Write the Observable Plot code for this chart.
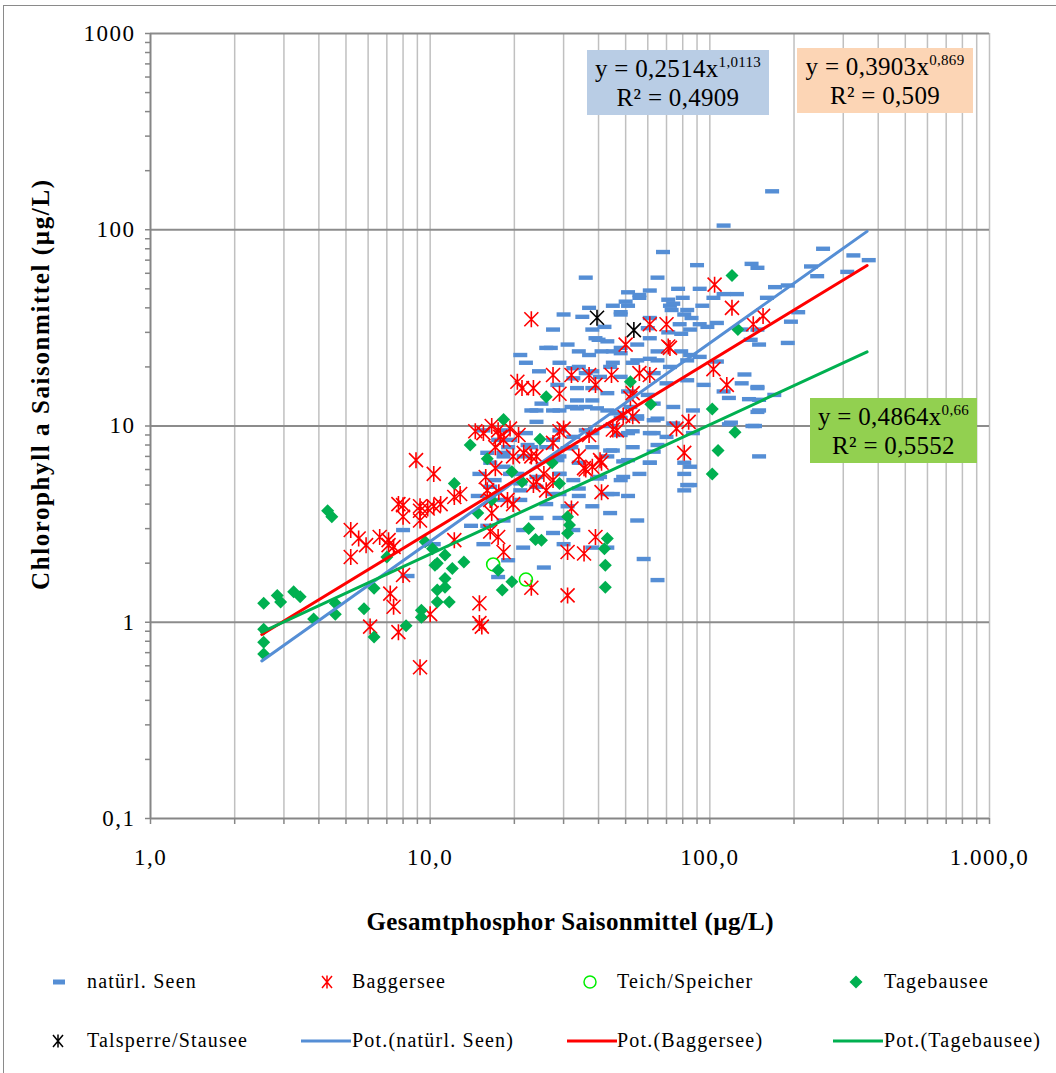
<!DOCTYPE html>
<html><head><meta charset="utf-8">
<script src="https://cdn.jsdelivr.net/npm/d3@7"></script>
<script src="https://cdn.jsdelivr.net/npm/@observablehq/plot@0.6"></script>
<style>
body{margin:0;background:#fff;}
#wrap{position:relative;width:1056px;height:1073px;overflow:hidden;font-family:"Liberation Serif","Times New Roman",serif;color:#000;background:#fff;}
#frame{position:absolute;left:3px;top:5px;width:1200px;height:1200px;border-left:1.5px solid #8a8a8a;border-top:1.5px solid #8a8a8a;}
#chart{position:absolute;left:0;top:0;}
.box{position:absolute;height:65px;text-align:center;font-family:"Liberation Serif",serif;font-size:25px;letter-spacing:0.3px;padding-top:4px;box-sizing:border-box;}
.box div{line-height:29px;height:29px;white-space:nowrap;}
.box .sup{font-size:15px;position:relative;top:-10px;letter-spacing:0.3px;}
.leg{position:absolute;font-family:"Liberation Serif",serif;font-size:20px;letter-spacing:1.2px;white-space:nowrap;line-height:24px;}
.legm{position:absolute;overflow:visible;}
</style></head><body>
<div id="wrap"><div id="frame"></div><div id="chart"></div></div>
<script>
// ---------- data (TP µg/L, Chl a µg/L) ----------
const seen = [
[167,157],[112,105],[68,77],[254,80],[326,74],[370,70],[90,66],[141,67],[148,64],[230,65],[242,58],[310,61],[65,57],[77,50],[92,50],[112,47],[125,47],[171,51],[190,52],[160,45],[61,49],[56,45],[50,43],[51,41],[45,41],[48,38],[71,44],[72,41],[73,39],[83,39],[94,41],[86,35.5],[78,33],[92,33],[61,35.5],[60,31.5],[61,28],[71,30],[79,29.5],[85,31],[98,32],[106,33.5],[130,31],[148,31],[140,27.5],[150,26],[190,26.5],[207,38],[195,34],[55,26],[48,25],[43,27],[45,24],[65,24],[79,24],[85,23],[92,22.5],[106,21.3],[133,18.3],[130,16.5],[148,15.6],[150,13.6],[150,12],[170,14.4],[142,10],[150,7],[119,10.4],[117,13.9],
[36,57],[51,48],[56,46.5],[80,45],[74,42],[37,40],[103,45],
[30,37],[35,36],[48,37],[81,37],[27.5,31],[38,31],[42,32],[31,26],[39,28],[27,25],[34,24],[41,24],[48,23.5],[45,21],[53,21],[61,22],[72,20],[83,21.6],[22,21],[24.5,19],[21,23],[32.5,19.7],[38,19],[32.5,17.5],[40.5,17.8],[48,17.8],[63,18.6],[70,16.5],[83,17.1],[28.5,16.2],[33.5,15.6],[38,15.6],[43,14.7],[51,15],[60,14.4],[33.5,13.5],[38,13.5],[33.5,12.3],[29,12],[36,12.5],[43,12],[52,12.5],[63,13],[74,12.5],[87,12],[23,12],[25,13],[48,11],[55,11.2],[63,10.7],[74,10.3],[44,10],[53,9.4],[63,9.2],[70,8.8],[48,9],[38,9.2],[32.5,8.8],[27.5,8.5],[22,9.2],[17.5,8.5],[19,7.8],[23,7.8],[26,7.8],[31,7.7],[38,7.8],[45,7.5],[53,7.8],[63,7.4],[16,7.3],[18.3,7],[29,7],[43,7],[51,6.7],[61,6.5],[81,6.5],[81,5.7],[83,5],[81,4.7],[18.3,6.2],[20.5,5.7],[17,5.3],[21,5.1],[29,5.7],[32.5,5.3],[40.5,5.5],[48,5.3],[56,5.7],[24,4.9],[29,4.5],[34,4.4],[43,4.5],[51,4.4],[14.8,4.4],[21,4.2],[26,4],[31,3.9],[38,3.9],[44,3.6],[55,3.3],[24,3.4],[29,3.4],[14,3.1],[16,3.1],[18.3,3.3],[21.5,2.95],[27.5,2.85],[32.5,2.95],[30,2.5],[38,2.4],[43,2.4],[58,2.1],[21.5,2.4],[15.5,2.5],[19,2.07],[17.5,1.7],[25.5,1.9],[65,1.64],
[95,16.2],[148,15.8],[112,15],[138,13.7],[148,11.8],[117,10.2],[145,10],[87,9.2],[85,6.2],[85,5],
[8,2.95],[8.3,1.72],[10.3,2.5],
[26,25],[40,27.5],[37,23],[29,21],[34,20],[44,20],[55,21.6],[65,21.6],[36,18.6],[24,12],[27.5,12],[32,12.5],[39.5,12.3],[46.5,11.6],[55,10.9],[65,10.9],[24,10.5],[29,9.5],[36,9.5],[51,9.2],[61,9.2],[19.3,8.5],[22.3,8],[32,7.8],[44,7.5],[65,8],[18.3,7.3],[21.6,7],[28.5,6.7],[34,6.5],[49,6.6],[61,6.5],[19.3,5.7],[24,5.5],[29,5.7],[39.5,5.4],[49,5.5],[21,4.7],[27.5,4.5],[34,4.8],[45,4.5],[18.3,4.2],[15,5.7],[16.4,4.9],[16.4,6.5],[15.5,9.5],[18.3,9.5]
];
const bagger = [
[8.9,6.7],[10.3,5.7],[7.7,4.0],[8,3.95],[9.2,3.9],[10.3,3.9],[8,3.45],[9.2,3.3],[5.2,2.95],[5.55,2.67],[5.9,2.47],[5.2,2.15],[6.6,2.72],[7.1,2.62],[7.4,2.42],[7.1,2.47],[8,1.74],[7.2,1.4],[7.4,1.2],[6.1,0.95],[7.7,0.89],[9.2,0.59],[10,1.1],
[23,35],[61,33],[70,33],[50,26],[72,25],[20.5,16.8],[21.3,15.6],[27.5,18.2],[23.4,15.6],[29,14.6],[32,18.2],[37,18.2],[39,16.2],[44.5,18.2],[56,18.6],[61,18.2],[53,14.7],[49,11.3],[53,11.2],[45,9.6],[37,9],[29,9.4],[76,9.7],[84,10.5],[81,7.3],[41,4.6],[32,3.8],[39,2.72],[35.5,2.24],[31,2.28],[23,1.5],[31,1.37],[18.3,2.28],[17.5,2.72],[15,1.25],[15,0.99],[15.3,0.95],[12.2,2.62],[9.2,3.7],[12.2,4.35],[10.9,4.0],[9.8,3.8],[12.8,4.5],[14.5,9.4],[15.5,9.2],[16.6,10],[17.5,9.5],[17.8,8.8],[19.3,9.7],[20.7,9],[17.1,7.8],[18.3,8.5],[19.8,7],[21.6,7.3],[23,7],[24,7],[17.1,6.1],[15.8,5.5],[16,4.7],[17.6,4.6],[16.4,4.2],[18.9,4.2],[19.8,4],[16.6,3.6],[16.4,2.9],[24,5.2],[25.5,5.7],[27.5,5.3],[23.4,5],[26,4.7],[27.5,8.2],[30,9.7],[34,7],[35.5,6.1],[38,6.2],[41,6.5],[36,6],[46.5,9.5],
[104,52.5],[120,40],[155,36.4],[143,33],[71,25.4],[103,19.5],[115,16.2],[52,13.9],[40.5,6.7]
];
const teich = [[16.8,1.97],[22,1.65]];
const tagebau = [
[4.3,3.7],[4.45,3.45],[2.54,1.25],[2.84,1.37],[2.92,1.27],[3.25,1.43],[3.43,1.35],[2.54,0.92],[2.54,0.79],[2.54,0.69],[3.83,1.04],[4.58,1.25],[4.58,1.1],[5.8,1.17],[6.3,0.84],[6.3,1.49],[8.2,0.96],[7,2.15],[9.3,1.15],[9.3,1.06],[9.6,2.57],[10.6,2],[10.6,1.46],[10.6,1.27],
[26,14.1],[52,16.8],[61.5,12.9],[18.3,10.8],[24.7,8.55],[13.9,8],[16,6.8],[12.2,5.1],[19.6,5.85],[27.3,6.5],[29,5.1],[21.3,5.2],[16.6,4.2],[14.8,3.6],[31,3.45],[31.5,3.13],[31,2.84],[22.5,3],[23.8,2.64],[25,2.62],[43,2.67],[42,2.37],[42.3,1.95],[42.3,1.51],[10.2,2.37],[11.3,2.2],[13.2,2.03],[10.4,1.95],[12,1.88],[11.3,1.67],[11.3,1.51],[11.7,1.27],[17.5,1.84],[19.6,1.61],[18.1,1.46],
[120,58.5],[126,31],[102,12.2],[123,9.3],[107,7.5],[102,5.7]
];
const talsperre = [[39.5,35.6],[53.5,30.8]];

// power trendlines y = a·x^b (as printed on the chart)
const trendSeries = ["natürl. Seen", "Baggersee", "Tagebausee"];
const trendA = [0.2514, 0.3903, 0.4864];
const trendB = [1.0113, 0.869, 0.66];
const trendR2 = ["0,4909", "0,509", "0,5552"];
const trendAText = ["0,2514", "0,3903", "0,4864"];
const trendBText = ["1,0113", "0,869", "0,66"];
const trendRange = [2.5, 365];

const xTicks = [1, 10, 100, 1000];
const xTickLabels = ["1,0", "10,0", "100,0", "1.000,0"];
const yTicks = [0.1, 1, 10, 100, 1000];
const yTickLabels = ["0,1", "1", "10", "100", "1000"];
const xTitle = "Gesamtphosphor Saisonmittel (µg/L)";
const yTitle = "Chlorophyll a Saisonmittel (µg/L)";
const legendLabels = ["natürl. Seen", "Baggersee", "Teich/Speicher", "Tagebausee", "Talsperre/Stausee", "Pot.(natürl. Seen)", "Pot.(Baggersee)", "Pot.(Tagebausee)"];

// ---------- styles ----------
const C = {seen: "#558ed5", bagger: "#ff0000", teich: "#00ee00", tagebau: "#00b050", tal: "#000000"};
const trendColors = [C.seen, C.bagger, C.tagebau];

const dashSym = {draw(c) { c.moveTo(-7, -2.2); c.lineTo(7, -2.2); c.lineTo(7, 2.2); c.lineTo(-7, 2.2); c.closePath(); }};
const starSym = {draw(c) { c.moveTo(-7, -7); c.lineTo(7, 7); c.moveTo(7, -7); c.lineTo(-7, 7); c.moveTo(0, -8); c.lineTo(0, 8); }};
const diamondSym = {draw(c) { c.moveTo(0, -6.5); c.lineTo(6.5, 0); c.lineTo(0, 6.5); c.lineTo(-6.5, 0); c.closePath(); }};

// minor / grid positions
function decadeMultiples(lo, hi) {
  const out = [];
  for (let d = lo; d < hi; d *= 10) for (let k = 2; k <= 10; k++) out.push(+(d * k).toPrecision(6));
  return out;
}
const xGrid = decadeMultiples(1, 1000);
const yMinor = decadeMultiples(0.1, 1000).filter(v => !yTicks.includes(v));
const xMinor = xGrid.filter(v => !xTicks.includes(v));
const xLab = new Map(xTicks.map((v, i) => [v, xTickLabels[i]]));
const yLab = new Map(yTicks.map((v, i) => [v, yTickLabels[i]]));

const trendData = trendSeries.flatMap((s, i) => trendRange.map(x => ({s, i, x, y: trendA[i] * Math.pow(x, trendB[i])})));

const chart = Plot.plot({
  width: 1056, height: 950,
  marginLeft: 150, marginRight: 67, marginTop: 33, marginBottom: 132,
  x: {type: "log", domain: [1, 1000], label: null},
  y: {type: "log", domain: [0.1, 1000], label: null},
  style: {fontFamily: "'Liberation Serif','Times New Roman',serif", background: "transparent", overflow: "visible"},
  marks: [
    Plot.ruleX(xGrid, {stroke: "#c0c0c0", strokeWidth: 1.5}),
    Plot.ruleY(yTicks.slice(1), {stroke: "#8c8c8c", strokeWidth: 2}),
    Plot.axisX({ticks: xTicks.concat(xMinor), label: null, tickSize: 6, tickPadding: 24, stroke: "#868686", strokeWidth: 1.5, fill: "black",
      tickFormat: d => xLab.get(d) ?? "", fontSize: 23}),
    Plot.axisY({ticks: yTicks.concat(yMinor), label: null, tickSize: 5, tickPadding: 10, stroke: "#868686", strokeWidth: 1.5, fill: "black",
      tickFormat: d => yLab.get(d) ?? "", fontSize: 23}),
    Plot.ruleX([1], {stroke: "#868686", strokeWidth: 2}),
    Plot.ruleY([0.1], {stroke: "#868686", strokeWidth: 2}),
    Plot.dot(seen, {x: d => d[0], y: d => d[1], symbol: dashSym, fill: C.seen, stroke: "none"}),
    Plot.dot(bagger, {x: d => d[0], y: d => d[1], symbol: starSym, fill: "none", stroke: C.bagger, strokeWidth: 1.6}),
    Plot.dot(teich, {x: d => d[0], y: d => d[1], r: 6.5, fill: "none", stroke: C.teich, strokeWidth: 1.6}),
    Plot.dot(tagebau, {x: d => d[0], y: d => d[1], symbol: diamondSym, fill: C.tagebau, stroke: "none"}),
    Plot.dot(talsperre, {x: d => d[0], y: d => d[1], symbol: starSym, fill: "none", stroke: C.tal, strokeWidth: 1.6}),
    Plot.line(trendData, {x: "x", y: "y", z: "s", stroke: d => trendColors[d.i], strokeWidth: 3}),
    Plot.text([xTitle], {frameAnchor: "bottom", dy: 103, lineAnchor: "middle", textAnchor: "middle", fontSize: 25, fontWeight: "bold", fill: "black"}),
    Plot.text([yTitle], {frameAnchor: "left", dx: -110, dy: -41, rotate: -90, lineAnchor: "middle", textAnchor: "middle", fontSize: 25, fontWeight: "bold", fill: "black"})
  ]
});
const sel = d3.select(chart);
sel.selectAll('g[aria-label="x-axis tick label"] text, g[aria-label="y-axis tick label"] text').attr("letter-spacing", "1.5px");
sel.selectAll("text").filter(function() { return this.textContent === xTitle; }).attr("textLength", 407).attr("lengthAdjust", "spacing");
sel.selectAll("text").filter(function() { return this.textContent === yTitle; }).attr("textLength", 410).attr("lengthAdjust", "spacing");
document.getElementById("chart").appendChild(chart);

// ---------- equation boxes ----------
const wrap = document.getElementById("wrap");
const boxLayout = [
  {left: 587, top: 50, width: 182, bg: "#b9cde5"},
  {left: 797, top: 48, width: 176, bg: "#fcd5b5"},
  {left: 810, top: 398, width: 167, bg: "#92d050"}
];
trendSeries.forEach((s, i) => {
  const b = boxLayout[i];
  const el = document.createElement("div");
  el.className = "box";
  Object.assign(el.style, {left: b.left + "px", top: b.top + "px", width: b.width + "px", background: b.bg});
  const l1 = document.createElement("div");
  l1.append("y = " + trendAText[i] + "x");
  const sp = document.createElement("span"); sp.className = "sup"; sp.textContent = trendBText[i];
  l1.appendChild(sp);
  const l2 = document.createElement("div");
  l2.textContent = "R² = " + trendR2[i];
  el.append(l1, l2);
  wrap.appendChild(el);
});

// ---------- legend ----------
const legendLayout = [
  {mx: 59, tx: 87, y: 982, kind: "dash"},
  {mx: 327, tx: 352, y: 982, kind: "star", color: C.bagger},
  {mx: 590, tx: 617, y: 982, kind: "circle"},
  {mx: 856, tx: 884, y: 982, kind: "diamond"},
  {mx: 58, tx: 87, y: 1041, kind: "star", color: C.tal},
  {mx: 326, tx: 352, y: 1041, kind: "line", color: C.seen},
  {mx: 592, tx: 617, y: 1041, kind: "line", color: C.bagger},
  {mx: 858, tx: 884, y: 1041, kind: "line", color: C.tagebau}
];
const NS = "http://www.w3.org/2000/svg";
const legDash = {draw(c) { c.moveTo(-6, -2.5); c.lineTo(6, -2.5); c.lineTo(6, 2.5); c.lineTo(-6, 2.5); c.closePath(); }};
const legStar = {draw(c) { c.moveTo(-5, -6); c.lineTo(5, 6); c.moveTo(5, -6); c.lineTo(-5, 6); c.moveTo(0, -6.5); c.lineTo(0, 6.5); }};
legendLabels.forEach((label, i) => {
  const L = legendLayout[i];
  const svg = document.createElementNS(NS, "svg");
  svg.setAttribute("class", "legm");
  svg.setAttribute("width", 60); svg.setAttribute("height", 20);
  svg.style.left = (L.mx - 30) + "px"; svg.style.top = (L.y - 10) + "px";
  const g = d3.select(svg).append("g").attr("transform", "translate(30,10)");
  if (L.kind === "dash") g.append("path").attr("d", d3.symbol(legDash)()).attr("fill", C.seen);
  if (L.kind === "star") g.append("path").attr("d", d3.symbol(legStar)()).attr("fill", "none").attr("stroke", L.color).attr("stroke-width", 1.5);
  if (L.kind === "diamond") g.append("path").attr("d", d3.symbol(diamondSym)()).attr("fill", C.tagebau);
  if (L.kind === "circle") g.append("circle").attr("r", 6).attr("fill", "none").attr("stroke", C.teich).attr("stroke-width", 1.5);
  if (L.kind === "line") g.append("line").attr("x1", -25).attr("x2", 25).attr("stroke", L.color).attr("stroke-width", 3);
  wrap.appendChild(svg);
  const t = document.createElement("div");
  t.className = "leg";
  t.textContent = label;
  t.style.left = L.tx + "px"; t.style.top = (L.y - 13) + "px";
  wrap.appendChild(t);
});
</script>
</body></html>
